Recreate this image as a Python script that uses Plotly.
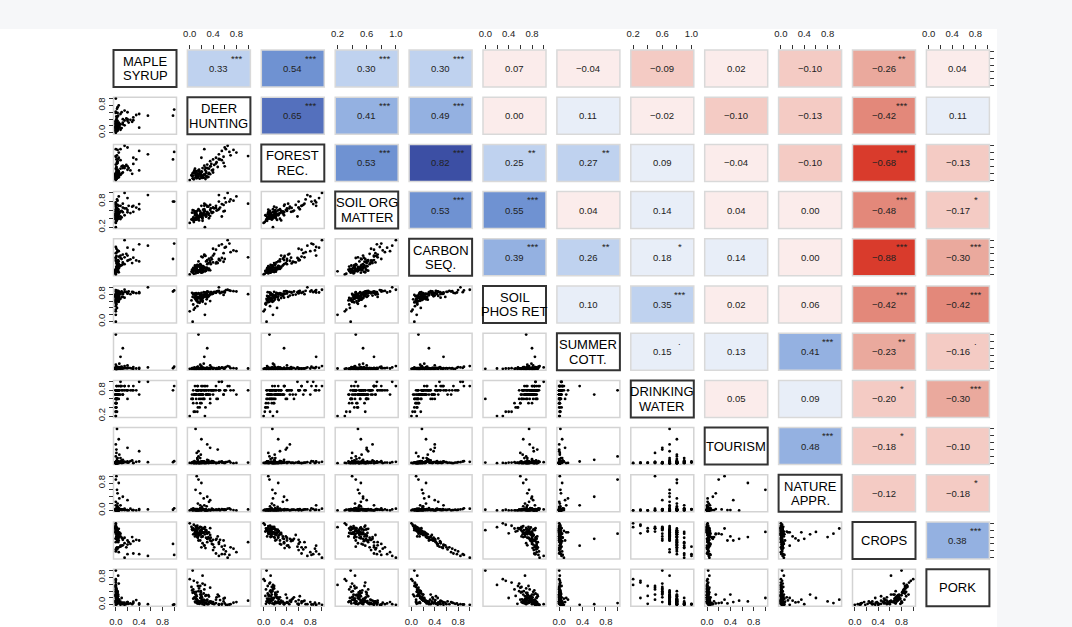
import plotly.graph_objects as go

FONT = "Liberation Sans, Arial, Helvetica, sans-serif"

# Variable names shown on the diagonal (one entry per text line)
names = [["MAPLE", "SYRUP"], ["DEER", "HUNTING"], ["FOREST", "REC."], ["SOIL ORG", "MATTER"],
         ["CARBON", "SEQ."], ["SOIL", "PHOS RET"], ["SUMMER", "COTT."], ["DRINKING", "WATER"],
         ["TOURISM"], ["NATURE", "APPR."], ["CROPS"], ["PORK"]]

# Site-level scaled service values (one entry per site)
maple_syrup = [0.00, 0.02, 0.01, 0.03, 0.00, 0.05, 0.02, 0.00, 0.01, 0.04, 0.03, 0.00, 0.01, 0.02, 0.06, 0.00, 0.00, 0.03, 0.01, 0.02,
               0.00, 0.01, 0.04, 0.02, 0.08, 0.00, 0.05, 0.01, 0.03, 0.00, 0.04, 0.01, 0.02, 0.03, 0.00, 0.10, 0.00, 0.02, 0.01, 0.03,
               0.02, 0.05, 0.10, 0.03, 0.15, 0.04, 0.20, 0.00, 0.08, 0.12, 0.01, 0.25, 0.05, 0.03, 0.18, 0.00, 0.35, 0.02, 0.01, 0.30,
               0.02, 0.30, 0.00, 0.05, 0.40, 0.01, 0.15, 0.03, 0.55, 0.00, 1.00, 0.20,
               0.00, 0.12, 0.08, 0.02, 0.05, 0.20, 0.01, 0.03, 0.00, 0.04, 0.98, 0.00,
               0.00, 0.03, 0.12, 0.01, 0.00, 0.02, 0.05, 0.22, 0.00, 0.01, 0.04, 0.00, 0.15, 0.02, 0.00, 0.06, 0.40, 0.01, 0.03, 0.08,
               0.00, 0.02, 0.28, 0.01]
deer_hunting = [0.20, 0.12, 0.05, 0.28, 0.15, 0.30, 0.09, 0.18, 0.22, 0.11, 0.14, 0.25, 0.17, 0.08, 0.19, 0.32, 0.13, 0.06, 0.16, 0.24,
                0.35, 0.10, 0.21, 0.07, 0.13, 0.27, 0.18, 0.04, 0.12, 0.00, 0.23, 0.16, 0.09, 0.29, 0.20, 0.14, 0.26, 0.11, 0.33, 0.19,
                0.45, 0.28, 0.60, 0.35, 0.22, 0.50, 0.40, 0.30, 0.55, 0.25, 0.48, 0.38, 0.20, 0.58, 0.42, 0.33, 0.52, 0.46, 0.27, 0.37,
                0.70, 0.45, 0.62, 0.80, 0.55, 0.40, 0.65, 0.75, 0.50, 0.58, 0.68, 0.60,
                0.15, 0.30, 0.25, 0.10, 0.20, 0.35, 0.12, 0.18, 0.05, 0.22, 0.50, 1.00,
                0.10, 0.26, 0.40, 0.06, 0.18, 0.13, 0.22, 0.30, 0.08, 0.20, 0.16, 0.03, 0.36, 0.12, 0.07, 0.24, 0.15, 0.28, 0.19, 0.09,
                0.14, 0.21, 0.32, 0.11]
forest_rec = [0.12, 0.05, 0.20, 0.10, 0.15, 0.08, 0.25, 0.18, 0.06, 0.22, 0.14, 0.16, 0.04, 0.28, 0.19, 0.09, 0.11, 0.13, 0.30, 0.07,
              0.17, 0.21, 0.10, 0.24, 0.15, 0.03, 0.20, 0.12, 0.26, 0.00, 0.08, 0.18, 0.23, 0.11, 0.14, 0.19, 0.16, 0.09, 0.21, 0.13,
              0.48, 0.25, 0.40, 0.55, 0.35, 0.62, 0.30, 0.45, 0.58, 0.42, 0.38, 0.28, 0.65, 0.50, 0.44, 0.33, 0.60, 0.52, 0.36, 0.47,
              0.72, 0.65, 0.90, 0.80, 0.85, 0.60, 1.00, 0.88, 0.75, 0.68, 0.82, 0.95,
              0.10, 0.35, 0.90, 0.15, 0.25, 0.40, 0.08, 0.20, 0.05, 0.12, 0.60, 0.70,
              0.08, 0.30, 0.22, 0.04, 0.18, 0.12, 0.10, 0.35, 0.20, 0.06, 0.26, 0.14, 0.40, 0.09, 0.02, 0.16, 0.28, 0.21, 0.11, 0.33,
              0.07, 0.24, 0.18, 0.13]
soil_org_matter = [0.52, 0.38, 0.60, 0.45, 0.41, 0.55, 0.48, 0.57, 0.35, 0.50, 0.44, 0.62, 0.47, 0.40, 0.53, 0.49, 0.58, 0.43, 0.36, 0.51,
                   0.46, 0.56, 0.42, 0.59, 0.39, 0.48, 0.45, 0.54, 0.50, 0.30, 0.61, 0.44, 0.37, 0.52, 0.47, 0.43, 0.20, 0.55, 0.41, 0.49,
                   0.65, 0.50, 0.58, 0.72, 0.48, 0.62, 0.55, 0.68, 0.45, 0.75, 0.60, 0.53, 0.70, 0.57, 0.64, 0.52, 0.66, 0.59, 0.73, 0.56,
                   0.85, 0.70, 0.78, 0.92, 0.74, 0.66, 1.00, 0.82, 0.95, 0.72, 0.80, 0.88,
                   0.45, 0.55, 0.70, 0.48, 0.52, 0.60, 0.40, 0.50, 0.38, 0.44, 0.80, 0.75,
                   0.42, 0.58, 0.66, 0.36, 0.50, 0.46, 0.40, 0.70, 0.53, 0.44, 0.60, 0.38, 0.64, 0.48, 0.32, 0.55, 0.62, 0.45, 0.51, 0.57,
                   0.43, 0.49, 0.68, 0.39]
carbon_seq = [0.05, 0.08, 0.12, 0.15, 0.10, 0.18, 0.22, 0.07, 0.14, 0.20, 0.25, 0.11, 0.09, 0.16, 0.28, 0.13, 0.06, 0.19, 0.23, 0.17,
              0.12, 0.08, 0.21, 0.15, 0.26, 0.10, 0.30, 0.14, 0.18, 0.00, 0.24, 0.11, 0.16, 0.20, 0.13, 0.27, 0.09, 0.22, 0.17, 0.15,
              0.32, 0.38, 0.45, 0.35, 0.50, 0.42, 0.55, 0.40, 0.48, 0.58, 0.33, 0.44, 0.52, 0.37, 0.60, 0.46, 0.41, 0.36, 0.54, 0.49,
              0.65, 0.72, 0.80, 0.68, 0.88, 0.75, 1.00, 0.70, 0.84, 0.62, 0.90, 0.78,
              0.12, 0.30, 0.55, 0.18, 0.25, 0.40, 0.08, 0.20, 0.05, 0.10, 0.45, 0.50,
              0.03, 0.20, 0.35, 0.10, 0.15, 0.28, 0.06, 0.42, 0.12, 0.18, 0.24, 0.08, 0.30, 0.14, 0.02, 0.22, 0.38, 0.11, 0.16, 0.26,
              0.05, 0.19, 0.33, 0.09]
soil_phos_ret = [0.78, 0.66, 0.72, 0.85, 0.58, 0.70, 0.80, 0.74, 0.62, 0.83, 0.68, 0.76, 0.55, 0.81, 0.64, 0.73, 0.45, 0.79, 0.69, 0.86,
                 0.60, 0.75, 0.71, 0.82, 0.67, 0.52, 0.77, 0.84, 0.63, 0.30, 0.74, 0.70, 0.40, 0.65, 0.80, 0.72, 0.20, 0.68, 0.76, 0.61,
                 0.85, 0.74, 0.88, 0.79, 0.70, 0.90, 0.82, 0.76, 0.86, 0.72, 0.89, 0.80, 0.84, 0.78, 0.87, 0.75, 0.83, 0.88, 0.81, 0.86,
                 0.90, 0.84, 0.92, 0.88, 0.86, 0.83, 0.93, 0.89, 1.00, 0.87, 0.91, 0.85,
                 0.70, 0.80, 0.85, 0.75, 0.65, 0.82, 0.60, 0.72, 0.00, 0.68, 0.88, 0.80,
                 0.65, 0.77, 0.84, 0.50, 0.72, 0.80, 0.58, 0.88, 0.70, 0.75, 0.82, 0.62, 0.86, 0.68, 0.35, 0.79, 0.83, 0.73, 0.66, 0.81,
                 0.56, 0.71, 0.87, 0.63]
summer_cott = [0.01, 0.00, 0.02, 0.00, 0.01, 0.03, 0.00, 0.01, 0.00, 0.02, 0.01, 0.00, 0.00, 0.04, 0.01, 0.00, 0.02, 0.01, 0.00, 0.03,
               0.00, 0.01, 0.02, 0.00, 0.05, 0.01, 0.00, 0.02, 0.01, 0.00, 0.03, 0.00, 0.01, 0.02, 0.00, 0.06, 0.01, 0.00, 0.02, 0.01,
               0.00, 0.02, 0.01, 0.00, 0.03, 0.01, 0.02, 0.00, 0.04, 0.01, 0.00, 0.02, 0.01, 0.03, 0.02, 0.00, 0.01, 0.02, 0.00, 0.05,
               0.02, 0.00, 0.05, 0.01, 0.03, 0.00, 0.08, 0.02, 0.04, 0.01, 0.06, 0.03,
               1.00, 0.60, 0.35, 0.02, 0.05, 0.10, 0.01, 0.03, 0.00, 0.01, 0.02, 0.01,
               0.00, 0.01, 0.02, 0.00, 0.12, 0.00, 0.01, 0.03, 0.00, 0.08, 0.01, 0.00, 0.02, 0.00, 0.01, 0.15, 0.00, 0.02, 0.01, 0.00,
               0.04, 0.00, 0.01, 0.02]
drinking_water = [0.7, 0.8, 0.6, 0.7, 0.8, 0.7, 0.9, 0.5, 0.7, 0.8, 0.8, 0.6, 0.4, 0.7, 0.8, 0.7, 0.3, 0.8, 0.7, 0.6,
                  0.5, 0.7, 0.8, 0.7, 0.9, 0.4, 0.8, 0.7, 0.8, 0.2, 0.7, 0.6, 0.3, 0.8, 0.5, 0.9, 0.2, 0.7, 0.8, 0.7,
                  0.8, 0.7, 0.8, 0.7, 0.9, 0.8, 0.8, 0.7, 1.0, 0.8, 0.6, 0.8, 0.9, 0.7, 0.8, 0.7, 0.8, 0.6, 0.9, 0.8,
                  0.8, 0.9, 0.8, 0.7, 1.0, 0.8, 0.9, 0.8, 1.0, 0.7, 0.9, 0.8,
                  0.8, 0.7, 0.9, 0.7, 0.8, 0.6, 0.5, 0.7, 0.6, 0.7, 0.8, 0.8,
                  0.7, 0.8, 0.7, 0.5, 0.7, 0.8, 0.6, 0.9, 0.7, 0.8, 0.7, 0.6, 0.8, 0.7, 0.3, 0.8, 0.7, 0.8, 0.6, 0.7,
                  0.4, 0.7, 0.8, 0.6]
tourism = [0.02, 0.00, 0.03, 0.01, 0.00, 0.04, 0.02, 0.00, 0.05, 0.01, 0.03, 0.00, 0.02, 0.06, 0.25, 0.00, 0.02, 0.03, 0.00, 0.01,
           0.04, 0.01, 0.02, 0.00, 0.15, 0.01, 0.03, 0.02, 0.00, 0.01, 0.05, 0.00, 0.02, 0.01, 0.03, 0.08, 0.00, 0.02, 0.01, 0.04,
           0.01, 0.03, 0.00, 0.02, 0.04, 0.01, 0.05, 0.55, 0.02, 0.03, 0.40, 0.06, 0.00, 0.02, 0.03, 0.01, 0.04, 0.00, 0.02, 0.01,
           0.02, 0.00, 0.03, 0.01, 0.05, 0.02, 0.04, 0.00, 0.03, 0.01, 0.06, 0.02,
           0.20, 0.10, 0.05, 1.00, 0.70, 0.45, 0.30, 0.15, 0.02, 0.04, 0.03, 0.02,
           0.00, 0.02, 0.01, 0.03, 0.00, 0.12, 0.01, 0.02, 0.00, 0.05, 0.01, 0.00, 0.03, 0.02, 0.00, 0.01, 0.35, 0.00, 0.02, 0.04,
           0.01, 0.00, 0.08, 0.01]
nature_appr = [0.01, 0.02, 0.00, 0.03, 0.01, 0.00, 0.04, 0.01, 0.02, 0.00, 0.20, 0.01, 0.00, 0.02, 0.03, 0.01, 0.00, 0.06, 0.02, 0.01,
               0.00, 0.03, 0.01, 0.02, 0.04, 0.00, 0.07, 0.01, 0.02, 0.00, 0.03, 0.01, 0.00, 0.12, 0.05, 0.01, 0.00, 0.04, 0.02, 0.01,
               0.02, 0.00, 0.03, 0.01, 0.02, 0.04, 0.01, 0.00, 0.03, 0.02, 0.01, 0.05, 0.00, 0.02, 0.01, 0.25, 0.00, 0.02, 0.04, 0.01,
               0.03, 0.01, 0.02, 0.00, 0.04, 0.02, 0.05, 0.01, 0.03, 0.02, 0.06, 0.01,
               0.90, 0.40, 0.15, 0.60, 0.80, 0.30, 1.00, 0.50, 0.02, 0.05, 0.02, 0.03,
               0.01, 0.00, 0.02, 0.00, 0.15, 0.01, 0.03, 0.00, 0.02, 0.01, 0.00, 0.04, 0.01, 0.00, 0.02, 0.35, 0.01, 0.00, 0.03, 0.02,
               0.00, 0.10, 0.01, 0.00]
crops = [0.88, 0.80, 0.83, 0.80, 0.85, 0.70, 0.75, 0.90, 0.62, 0.66, 0.62, 0.84, 0.78, 0.70, 0.68, 0.74, 0.93, 0.68, 0.72, 0.86,
         0.86, 0.81, 0.74, 0.82, 0.70, 0.76, 0.50, 0.83, 0.77, 1.00, 0.72, 0.87, 0.71, 0.74, 0.76, 0.58, 0.89, 0.69, 0.73, 0.81,
         0.52, 0.58, 0.35, 0.66, 0.42, 0.45, 0.38, 0.55, 0.32, 0.36, 0.62, 0.40, 0.30, 0.50, 0.30, 0.56, 0.52, 0.55, 0.28, 0.48,
         0.30, 0.12, 0.18, 0.16, 0.10, 0.22, 0.00, 0.26, 0.05, 0.24, 0.08, 0.10,
         0.70, 0.55, 0.35, 0.75, 0.60, 0.50, 0.85, 0.68, 0.80, 0.62, 0.40, 0.45,
         0.92, 0.68, 0.52, 0.85, 0.74, 0.60, 0.84, 0.45, 0.82, 0.78, 0.65, 0.90, 0.58, 0.72, 0.96, 0.74, 0.50, 0.80, 0.70, 0.62,
         0.86, 0.76, 0.60, 0.88]
pork = [0.25, 0.10, 0.35, 0.05, 0.40, 0.15, 0.20, 0.55, 0.08, 0.30, 0.12, 0.45, 0.03, 0.22, 0.06, 0.28, 0.65, 0.18, 0.10, 0.33,
        0.50, 0.07, 0.14, 0.38, 0.04, 0.26, 0.09, 0.42, 0.16, 0.75, 0.11, 0.48, 0.20, 0.13, 0.30, 0.05, 0.58, 0.17, 0.24, 0.36,
        0.15, 0.05, 0.20, 0.10, 0.02, 0.25, 0.08, 0.12, 0.03, 0.06, 0.30, 0.04, 0.10, 0.18, 0.02, 0.07, 0.14, 0.22, 0.05, 0.09,
        0.02, 0.05, 0.00, 0.08, 0.01, 0.03, 0.00, 0.06, 0.02, 0.10, 0.01, 0.04,
        0.05, 0.02, 0.00, 0.20, 0.10, 0.08, 0.15, 0.30, 1.00, 0.85, 0.00, 0.12,
        0.30, 0.12, 0.05, 0.45, 0.20, 0.10, 0.62, 0.03, 0.35, 0.18, 0.08, 0.52, 0.06, 0.25, 0.70, 0.15, 0.04, 0.28, 0.40, 0.09,
        0.55, 0.22, 0.02, 0.38]

# Pearson correlations (upper triangle, row by row) and significance codes
corr_r = [
    [0.33, 0.54, 0.30, 0.30, 0.07, -0.04, -0.09, 0.02, -0.10, -0.26, 0.04],
    [0.65, 0.41, 0.49, 0.00, 0.11, -0.02, -0.10, -0.13, -0.42, 0.11],
    [0.53, 0.82, 0.25, 0.27, 0.09, -0.04, -0.10, -0.68, -0.13],
    [0.53, 0.55, 0.04, 0.14, 0.04, 0.00, -0.48, -0.17],
    [0.39, 0.26, 0.18, 0.14, 0.00, -0.88, -0.30],
    [0.10, 0.35, 0.02, 0.06, -0.42, -0.42],
    [0.15, 0.13, 0.41, -0.23, -0.16],
    [0.05, 0.09, -0.20, -0.30],
    [0.48, -0.18, -0.10],
    [-0.12, -0.18],
    [0.38],
]
corr_sig = [
    ["***", "***", "***", "***", "", "", "", "", "", "**", ""],
    ["***", "***", "***", "", "", "", "", "", "***", ""],
    ["***", "***", "**", "**", "", "", "", "***", ""],
    ["***", "***", "", "", "", "", "***", "*"],
    ["***", "**", "*", "", "", "***", "***"],
    ["", "***", "", "", "***", "***"],
    [".", "", "***", "**", "."],
    ["", "", "*", "***"],
    ["***", "*", ""],
    ["", "*"],
    ["***"],
]

data = [maple_syrup, deer_hunting, forest_rec, soil_org_matter, carbon_seq, soil_phos_ret,
        summer_cott, drinking_water, tourism, nature_appr, crops, pork]
n = len(data)


def corr_color(r):
    steps = [(-0.6, "#d93b2c"), (-0.4, "#e3887a"), (-0.21, "#eaa99d"), (-0.08, "#f4cbc4"),
             (0.08, "#fbeceb"), (0.2, "#e8eef8"), (0.37, "#bfd2ef"), (0.5, "#94b1e1"),
             (0.6, "#6f92d2"), (0.75, "#5470bd")]
    for bound, col in steps:
        if r < bound or (bound < 0 and r <= bound):
            return col
    return "#3c4fa4"


def axis_range(v):
    lo, hi = min(v), max(v)
    pad = 0.04 * (hi - lo)
    return [lo - pad, hi + pad]


def axis_ticks(v, labelled):
    """Ticks every 0.2 over the data range; only some of them carry a label."""
    start = 0.2 if min(v) >= 0.15 else 0.0
    vals = [round(start + 0.2 * s, 1) for s in range(6) if start + 0.2 * s <= 1.0001]
    wanted = labelled(start)
    text = [f"{t:.1f}" if any(abs(t - w) < 1e-6 for w in wanted) else "" for t in vals]
    return vals, text


def horizontal_labels(start):
    return [start, start + 0.4, start + 0.8]


def vertical_labels(start):
    return [start, 0.8]


# Grid geometry in pixels
W, H = 1072, 627
X0, DX, PW = 113.5, 73.9, 63.0
Y0, DY, PH = 50.0, 47.2, 37.0

fig = go.Figure()
layout = {}
shapes = []
annotations = []

# White plotting card
shapes.append(dict(type="rect", xref="paper", yref="paper", x0=0, x1=997 / W, y0=0, y1=1 - 29 / H,
                   fillcolor="white", line=dict(width=0), layer="below"))

tick_font = dict(family=FONT, size=9.5, color="#222")
line_gap = 14.6 / PH

for i in range(n):
    for j in range(n):
        k = i * n + j + 1
        sfx = "" if k == 1 else str(k)
        left = X0 + DX * j
        top = Y0 + DY * i
        xa = dict(domain=[left / W, (left + PW) / W], anchor="y" + sfx, range=axis_range(data[j]),
                  showgrid=False, zeroline=False, showline=False, showticklabels=False, ticks="",
                  fixedrange=True, automargin=False)
        ya = dict(domain=[1 - (top + PH) / H, 1 - top / H], anchor="x" + sfx, range=axis_range(data[i]),
                  showgrid=False, zeroline=False, showline=False, showticklabels=False, ticks="",
                  fixedrange=True, automargin=False)

        tick_style = dict(ticks="outside", ticklen=4, tickwidth=1, tickcolor="#333", tickfont=tick_font)
        if i == 0 and j % 2 == 1:
            tv, tt = axis_ticks(data[j], horizontal_labels)
            xa.update(tick_style, side="top", tickvals=tv, ticktext=tt, showticklabels=True,
                      ticklabelstandoff=4)
        if i == n - 1 and j % 2 == 0:
            tv, tt = axis_ticks(data[j], horizontal_labels)
            xa.update(tick_style, side="bottom", tickvals=tv, ticktext=tt, showticklabels=True,
                      ticklabelstandoff=2)
        if j == 0 and i % 2 == 1:
            tv, tt = axis_ticks(data[i], vertical_labels)
            ya.update(tick_style, side="left", tickvals=tv, ticktext=tt, showticklabels=True,
                      tickangle=-90)
        if j == n - 1 and i % 2 == 0:
            tv, tt = axis_ticks(data[i], lambda s: [])
            ya.update(tick_style, side="right", tickvals=tv, showticklabels=False)

        layout["xaxis" + sfx] = xa
        layout["yaxis" + sfx] = ya

        xref, yref = "x" + sfx + " domain", "y" + sfx + " domain"
        if i > j:
            fig.add_trace(go.Scatter(x=data[j], y=data[i], mode="markers",
                                     marker=dict(size=2.8, color="black"),
                                     xaxis="x" + sfx, yaxis="y" + sfx,
                                     showlegend=False, hoverinfo="skip"))
            shapes.append(dict(type="rect", xref=xref, yref=yref, x0=0, x1=1, y0=0, y1=1,
                               line=dict(color="#d3d3d3", width=1.5), layer="below"))
        else:
            fig.add_trace(go.Scatter(x=[None], y=[None], mode="markers",
                                     xaxis="x" + sfx, yaxis="y" + sfx,
                                     showlegend=False, hoverinfo="skip"))
            if i == j:
                shapes.append(dict(type="rect", xref=xref, yref=yref, x0=0, x1=1, y0=0, y1=1,
                                   fillcolor="white", line=dict(color="#333", width=2)))
                lines = names[i]
                for li, txt in enumerate(lines):
                    yy = 0.5 + line_gap * ((len(lines) - 1) / 2 - li)
                    annotations.append(dict(xref=xref, yref=yref, x=0.5, y=yy, text=txt,
                                            showarrow=False, font=dict(family=FONT, size=13, color="black"),
                                            xanchor="center", yanchor="middle"))
            else:
                r = corr_r[i][j - i - 1]
                sig = corr_sig[i][j - i - 1]
                shapes.append(dict(type="rect", xref=xref, yref=yref, x0=0, x1=1, y0=0, y1=1,
                                   fillcolor=corr_color(r), line=dict(color="#d9d9d9", width=1.5)))
                label = f"{r:.2f}".replace("-", "\u2212")
                annotations.append(dict(xref=xref, yref=yref, x=0.5, y=0.5, text=label,
                                        showarrow=False, font=dict(family=FONT, size=9.5, color="#222"),
                                        xanchor="center", yanchor="middle"))
                if sig:
                    annotations.append(dict(xref=xref, yref=yref, x=0.78, y=0.78, text=sig,
                                            showarrow=False, font=dict(family=FONT, size=9.5, color="#222"),
                                            xanchor="center", yanchor="middle"))

fig.update_layout(**layout)
fig.update_layout(width=W, height=H, margin=dict(l=0, r=0, t=0, b=0),
                  paper_bgcolor="#f6f7f9", plot_bgcolor="rgba(0,0,0,0)",
                  shapes=shapes, annotations=annotations, showlegend=False)

fig.write_html("out.html")
